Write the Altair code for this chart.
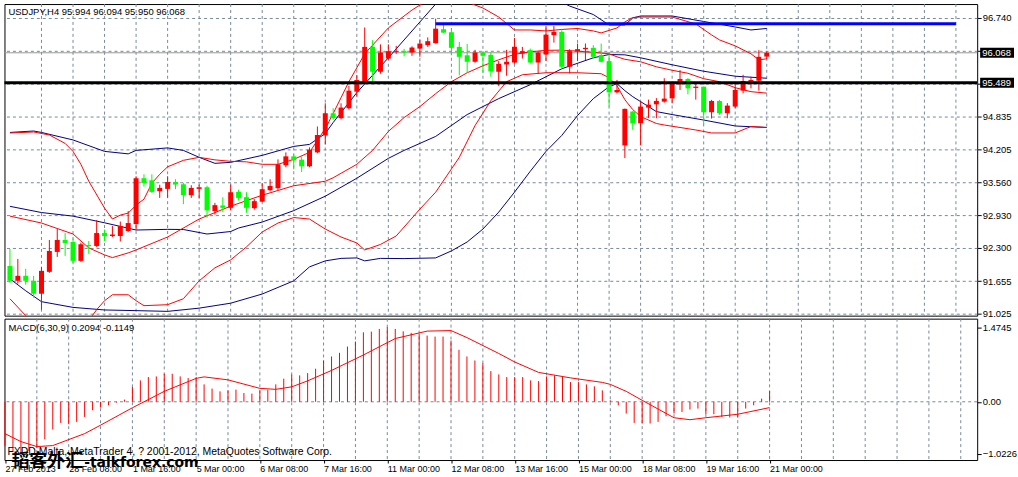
import altair as alt
import pandas as pd

# ---------------- data ----------------
opens = [91.949, 91.661, 91.757, 91.661, 91.411, 91.834, 92.219, 92.450, 92.411, 92.046,
         92.353, 92.334, 92.584, 92.527, 92.527, 92.623, 92.757, 93.643, 93.604, 93.392,
         93.437, 93.571, 93.527, 93.315, 93.437, 93.469, 93.008, 93.117, 93.071, 93.379,
         93.277, 93.065, 93.190, 93.412, 93.450, 93.893, 94.066, 94.002, 93.873, 94.143,
         94.470, 94.899, 94.803, 94.995, 95.316, 95.509, 96.182, 95.701, 95.957, 96.080,
         96.099, 96.073, 96.149, 96.215, 96.253, 96.523, 96.465, 96.182, 96.019, 95.894,
         96.073, 96.028, 95.701, 95.842, 95.880, 96.053, 96.119, 95.880, 96.034, 96.407,
         96.471, 95.797, 96.099, 96.138, 96.163, 96.023, 95.907, 95.303, 94.277, 94.932,
         94.706, 95.009, 95.072, 95.124, 95.187, 95.457, 95.561, 95.388, 95.413, 94.918,
         95.137, 94.899, 95.028, 95.336, 95.509, 95.528, 95.994]
highs = [92.277, 92.084, 91.892, 91.757, 91.930, 92.450, 92.661, 92.584, 92.478, 92.398,
         92.430, 92.834, 92.652, 92.719, 92.806, 93.008, 93.681, 93.719, 93.719, 93.517,
         93.681, 93.623, 93.552, 93.508, 93.521, 93.498, 93.167, 93.277, 93.521, 93.421,
         93.373, 93.238, 93.546, 93.623, 94.008, 94.143, 94.114, 94.066, 94.239, 94.643,
         95.091, 94.995, 95.091, 95.432, 95.638, 96.557, 96.311, 96.230, 96.230, 96.201,
         96.144, 96.192, 96.326, 96.365, 96.727, 96.611, 96.500, 96.278, 96.240, 96.124,
         96.099, 96.080, 95.907, 96.124, 96.355, 96.182, 96.149, 96.099, 96.586, 96.586,
         96.503, 96.138, 96.246, 96.246, 96.215, 96.246, 96.053, 95.542, 94.989, 94.941,
         95.124, 95.162, 95.191, 95.576, 95.509, 95.734, 95.580, 95.495, 95.413, 95.157,
         95.157, 95.095, 95.470, 95.643, 95.605, 96.119, 96.094]
lows = [91.622, 91.603, 91.584, 91.334, 91.103, 91.815, 92.123, 92.142, 92.007, 92.026,
        92.180, 92.315, 92.430, 92.507, 92.421, 92.604, 92.642, 93.479, 93.360, 93.263,
        93.267, 93.431, 93.142, 93.263, 93.252, 92.879, 92.940, 92.988, 93.021, 93.213,
        92.975, 93.036, 93.181, 93.392, 93.412, 93.854, 93.816, 93.764, 93.854, 94.124,
        94.297, 94.772, 94.778, 94.970, 95.220, 95.470, 95.476, 95.663, 95.932, 96.048,
        95.999, 96.009, 95.990, 96.182, 96.246, 96.452, 96.019, 95.630, 95.682, 95.874,
        95.682, 95.605, 95.422, 95.624, 95.855, 95.957, 95.861, 95.668, 95.907, 96.265,
        95.734, 95.668, 95.907, 95.926, 95.957, 95.884, 95.028, 95.284, 94.033, 94.579,
        94.277, 94.807, 94.803, 95.105, 95.091, 95.349, 95.264, 95.162, 94.681, 94.797,
        94.868, 94.803, 94.995, 95.284, 95.380, 95.336, 95.950]
closes = [91.661, 91.757, 91.661, 91.411, 91.853, 92.238, 92.450, 92.392, 92.046, 92.367,
          92.334, 92.584, 92.527, 92.555, 92.719, 92.777, 93.643, 93.552, 93.379, 93.456,
          93.571, 93.521, 93.315, 93.456, 93.469, 93.021, 93.123, 93.071, 93.373, 93.263,
          93.071, 93.200, 93.431, 93.494, 93.912, 94.066, 93.989, 93.873, 94.195, 94.479,
          94.899, 94.803, 95.009, 95.336, 95.542, 96.182, 95.701, 96.073, 96.099, 96.099,
          96.073, 96.169, 96.246, 96.292, 96.534, 96.457, 96.163, 95.990, 95.894, 96.073,
          96.009, 95.707, 95.855, 95.894, 96.182, 96.099, 95.880, 96.073, 96.419, 96.471,
          95.797, 96.099, 96.138, 96.163, 95.990, 95.894, 95.303, 95.349, 94.984, 94.706,
          95.028, 95.066, 95.137, 95.182, 95.476, 95.561, 95.380, 95.413, 94.918, 95.137,
          94.899, 95.047, 95.349, 95.522, 95.542, 95.990, 96.068]

# Bollinger lines (blue = slow band, red = fast band): bar index -> price
bu_bars = [0, 3, 4, 8, 12, 15, 16, 20, 22, 24, 26, 28, 32, 36, 38, 40, 41, 44, 48, 52, 54, 56, 60, 64,
           68, 70, 71, 74, 76, 78, 79, 80, 84, 88, 92, 94, 96]
bu_vals = [94.528, 94.556, 94.528, 94.383, 94.162, 94.114, 94.181, 94.229, 94.181, 94.047, 93.931,
           93.950, 94.085, 94.258, 94.297, 94.508, 94.720, 95.297, 95.971, 96.663, 97.010, 97.337,
           97.529, 97.433, 97.240, 97.048, 96.971, 96.807, 96.605, 96.605, 96.740, 96.779, 96.779,
           96.673, 96.567, 96.509, 96.538]
bm_bars = [0, 4, 8, 12, 16, 20, 22, 25, 28, 29, 32, 36, 40, 42, 44, 48, 50, 54, 58, 62, 66, 70, 74,
           76, 78, 80, 84, 88, 92, 96]
bm_vals = [93.100, 92.980, 92.911, 92.782, 92.642, 92.655, 92.652, 92.565, 92.613, 92.681, 92.796,
           93.017, 93.296, 93.469, 93.643, 94.027, 94.181, 94.451, 94.874, 95.182, 95.451, 95.759,
           95.971, 96.034, 96.028, 95.971, 95.836, 95.711, 95.615, 95.576]
bl_bars = [0, 2, 4, 8, 12, 16, 20, 24, 28, 32, 36, 38, 40, 42, 44, 45, 47, 50, 54, 56, 58, 60, 62, 64,
           66, 68, 70, 72, 74, 76, 77, 78, 79, 80, 82, 84, 88, 92, 96]
bl_vals = [91.699, 91.468, 91.257, 91.147, 91.097, 91.084, 91.070, 91.132, 91.228, 91.405, 91.660,
           91.930, 92.046, 92.094, 92.103, 92.046, 92.094, 92.090, 92.103, 92.238, 92.411, 92.661,
           92.988, 93.373, 93.777, 94.162, 94.470, 94.855, 95.182, 95.413, 95.470, 95.336, 95.220,
           95.124, 94.931, 94.874, 94.768, 94.653, 94.624]
ru_bars = [0, 3, 5, 7, 8, 9, 10, 12, 13, 14, 15, 16, 17, 18, 19, 20, 22, 24, 26, 28, 30, 32, 34, 36,
           38, 40, 41, 42, 43, 44, 45, 48, 51, 53, 55, 57, 58, 60, 62, 64, 66, 68, 70, 72, 74, 75,
           77, 78, 79, 80, 84, 87, 89, 90, 92, 94, 95, 96]
ru_vals = [94.518, 94.537, 94.479, 94.316, 94.162, 93.912, 93.585, 93.065, 92.854, 92.931, 92.969,
           93.123, 93.238, 93.546, 93.719, 93.864, 93.989, 94.047, 93.998, 93.970, 93.960, 93.912,
           93.912, 94.008, 94.143, 94.605, 94.893, 95.201, 95.509, 95.778, 96.048, 96.548, 96.894,
           97.086, 97.202, 97.125, 97.048, 96.933, 96.759, 96.509, 96.509, 96.490, 96.519, 96.538,
           96.490, 96.452, 96.548, 96.663, 96.750, 96.759, 96.759, 96.625, 96.413, 96.317, 96.201,
           96.048, 95.932, 95.951]
rm_bars = [0, 4, 8, 10, 12, 13, 15, 16, 20, 24, 28, 32, 36, 40, 41, 42, 44, 46, 48, 50, 52, 54, 56,
           58, 60, 62, 64, 66, 68, 70, 72, 74, 76, 77, 78, 80, 82, 84, 86, 88, 90, 92, 94, 96]
rm_vals = [92.911, 92.777, 92.565, 92.296, 92.161, 92.109, 92.200, 92.257, 92.507, 92.854, 93.104,
           93.315, 93.498, 93.585, 93.652, 93.739, 93.912, 94.181, 94.547, 94.816, 95.028, 95.278,
           95.509, 95.682, 95.817, 95.932, 96.038, 96.086, 96.115, 96.119, 96.099, 96.076, 96.048,
           95.990, 95.942, 95.894, 95.797, 95.730, 95.672, 95.567, 95.509, 95.393, 95.316, 95.288]
rl_bars = [0, 2, 5, 8, 10, 11, 12, 13, 15, 16, 17, 20, 22, 24, 26, 28, 30, 32, 34, 36, 38, 40, 42,
           44, 45, 47, 49, 52, 54, 57, 59, 61, 63, 65, 68, 72, 75, 76, 77, 78, 79, 80, 82, 83, 87,
           89, 92, 94, 96]
rl_vals = [91.314, 90.987, 90.603, 90.545, 90.891, 91.103, 91.276, 91.391, 91.391, 91.276, 91.180,
           91.199, 91.314, 91.660, 91.911, 92.065, 92.315, 92.604, 92.777, 92.883, 92.854, 92.661,
           92.507, 92.392, 92.257, 92.363, 92.527, 93.046, 93.373, 94.047, 94.662, 95.143, 95.509,
           95.643, 95.682, 95.682, 95.663, 95.586, 95.432, 95.162, 94.970, 94.835, 94.701, 94.672,
           94.576, 94.518, 94.518, 94.643, 94.624]

# drawn objects
trend_bars = [54, 120]
trend_vals = [96.630, 96.630]
hline_price = [95.489]
bid_price = [96.068]
marked_prices = [96.068, 95.489]

# MACD(6,30,9)
macd_hist = [-0.875, -0.973, -1.022, -0.973, -0.914, -0.743, -0.547, -0.417, -0.442, -0.397,
             -0.299, -0.167, -0.114, -0.069, -0.016, 0.043, 0.291, 0.423, 0.488, 0.501,
             0.554, 0.554, 0.501, 0.468, 0.488, 0.344, 0.260, 0.206, 0.226, 0.240,
             0.173, 0.161, 0.226, 0.240, 0.344, 0.456, 0.535, 0.521, 0.566, 0.653,
             0.816, 0.895, 0.967, 1.091, 1.190, 1.372, 1.386, 1.439, 1.4745, 1.439,
             1.392, 1.361, 1.341, 1.307, 1.288, 1.288, 1.209, 1.026, 0.895, 0.816,
             0.763, 0.606, 0.541, 0.488, 0.488, 0.488, 0.423, 0.409, 0.501, 0.521,
             0.488, 0.389, 0.389, 0.344, 0.305, 0.226, 0.029, -0.069, -0.232, -0.417,
             -0.429, -0.429, -0.397, -0.285, -0.232, -0.201, -0.153, -0.134, -0.246, -0.246,
             -0.299, -0.311, -0.311, -0.134, -0.069, 0.063, 0.2094]
sig_bars = [0, 2, 4, 6, 10, 12, 16, 20, 24, 25, 28, 32, 34, 36, 38, 41, 45, 49, 53, 56, 58, 62, 64,
            67, 71, 75, 76, 78, 80, 84, 86, 88, 92, 96]
sig_vals = [-0.629, -0.786, -0.885, -0.865, -0.629, -0.462, -0.118, 0.206, 0.462, 0.492, 0.433,
            0.265, 0.246, 0.295, 0.413, 0.619, 0.924, 1.249, 1.396, 1.406, 1.268, 0.954, 0.786,
            0.580, 0.472, 0.383, 0.344, 0.206, 0.029, -0.315, -0.354, -0.315, -0.246, -0.1149]

# axes
price_ticks = [96.740, 96.105, 95.470, 94.835, 94.205, 93.560, 92.930, 92.300, 91.655, 91.025]
hidden_price_ticks = [96.105, 95.470]
macd_ticks = [1.4745, 0.0, -1.0226]
time_labels = ["27 Feb 2013", "28 Feb 08:00", "1 Mar 16:00", "5 Mar 00:00", "6 Mar 08:00",
               "7 Mar 16:00", "11 Mar 00:00", "12 Mar 08:00", "13 Mar 16:00", "15 Mar 00:00",
               "18 Mar 08:00", "19 Mar 16:00", "21 Mar 00:00"]
label_bars = [8 * i for i in range(len(time_labels))]
grid_bars = [4 * i for i in range(1, 31)]

title_text = "USDJPY,H4  95.994 96.094 95.950 96.068"
macd_text = "MACD(6,30,9) 0.2094 -0.1149"
footer_text = "FXDD Malta, MetaTrader 4, ? 2001-2012, MetaQuotes Software Corp."
wm_cn = "韬客外汇"
wm_en = "-talkforex.com"

# ---------------- chart ----------------
W = 977
H_MAIN = 313
H_MACD = 142
FONT = "Liberation Sans"
GRID = "#778899"
RED = "#ff0000"
GREEN = "#00ff00"
NAVY = "#000080"

xs = alt.Scale(domain=[-0.0625, 122.0625], nice=False, zero=False)
ys = alt.Scale(domain=[90.987, 97.010], nice=False, zero=False)
ms = alt.Scale(domain=[-1.150, 1.642], nice=False, zero=False)

hidden_expr = " || ".join(f"abs(datum.value - {v}) < 0.0005" for v in hidden_price_ticks)
y_axis_main = alt.Axis(orient="right", values=price_ticks,
                       labelExpr=f"({hidden_expr}) ? '' : format(datum.value, '.3f')",
                       grid=True, gridColor=GRID, gridDash=[3, 3], gridWidth=1, gridOpacity=1,
                       ticks=True, tickSize=4, tickColor="black", domain=False,
                       labelPadding=1, labelFont=FONT, labelFontSize=9.5, labelColor="black",
                       labelBaseline="middle", labelOverlap=False, title=None)
y_axis_macd = alt.Axis(orient="right", values=macd_ticks,
                       labelExpr="datum.value == 0 ? '0.00' : format(datum.value, '.4f')",
                       grid=False, ticks=True, tickSize=4, tickColor="black", domain=False,
                       labelPadding=1, labelFont=FONT, labelFontSize=9.5, labelColor="black",
                       labelBaseline="middle", labelOverlap=False, title=None)
lab_arr = "[" + ",".join(f"'{s}'" for s in time_labels) + "]"
x_axis_macd = alt.Axis(orient="bottom", values=label_bars,
                       labelExpr=f"{lab_arr}[round(datum.value / 8)]",
                       grid=False, ticks=True, tickSize=3, tickColor="black", domain=False,
                       labelPadding=2, labelFont=FONT, labelFontSize=9, labelColor="black",
                       labelAlign="left", labelBaseline="top", labelFlush=False,
                       labelOverlap=False, title=None)

X_MAIN = alt.X("bar:Q", scale=xs, axis=None)
X_MACD = alt.X("bar:Q", scale=xs, axis=x_axis_macd)


def ymain(field):
    return alt.Y(f"{field}:Q", scale=ys, axis=y_axis_main)


def line_layer(bars, vals, color, width=1):
    df = pd.DataFrame({"bar": bars, "v": vals})
    return alt.Chart(df).mark_line(color=color, strokeWidth=width, clip=True).encode(
        x=X_MAIN, y=ymain("v"))


candles = pd.DataFrame({"bar": list(range(len(opens))), "open": opens, "high": highs,
                        "low": lows, "close": closes})
candles["dir"] = ["up" if c >= o else "down" for o, c in zip(opens, closes)]
cscale = alt.Scale(domain=["up", "down"], range=[RED, GREEN])

grid_df = pd.DataFrame({"bar": grid_bars})
vgrid_main = alt.Chart(grid_df).mark_rule(color=GRID, strokeDash=[3, 3], strokeWidth=1).encode(x=X_MAIN)

bid = alt.Chart(pd.DataFrame({"p": bid_price})).mark_rule(color="#999999", strokeWidth=1).encode(
    y=ymain("p"))

wicks = alt.Chart(candles).mark_rule(strokeWidth=1).encode(
    x=X_MAIN, y=ymain("low"), y2="high:Q",
    color=alt.Color("dir:N", scale=cscale, legend=None))
bodies = alt.Chart(candles).mark_bar(size=5).encode(
    x=X_MAIN, y=ymain("open"), y2="close:Q",
    color=alt.Color("dir:N", scale=cscale, legend=None))

hline = alt.Chart(pd.DataFrame({"p": hline_price})).mark_rule(color="black", strokeWidth=3).encode(
    y=ymain("p"))
trend = line_layer(trend_bars, trend_vals, "#0000ff", 3)

title = alt.Chart(pd.DataFrame({"t": [title_text]})).mark_text(
    align="left", baseline="middle", font=FONT, fontSize=9.5, color="black").encode(
    x=alt.value(4), y=alt.value(8), text="t:N")

hl_df = pd.DataFrame({"p": marked_prices, "label": [f"{v:.3f}" for v in marked_prices]})
hl_box = alt.Chart(hl_df).mark_rect(color="black", yOffset=-5, y2Offset=5).encode(
    x=alt.value(W + 3), x2=alt.value(W + 37), y=ymain("p"), y2="p:Q")
hl_txt = alt.Chart(hl_df).mark_text(align="left", baseline="middle", font=FONT, fontSize=9.5,
                                    color="white").encode(
    x=alt.value(W + 5), y=ymain("p"), text="label:N")

main = alt.layer(
    vgrid_main, bid,
    line_layer(bu_bars, bu_vals, NAVY), line_layer(bm_bars, bm_vals, NAVY),
    line_layer(bl_bars, bl_vals, NAVY),
    line_layer(ru_bars, ru_vals, RED), line_layer(rm_bars, rm_vals, RED),
    line_layer(rl_bars, rl_vals, RED),
    wicks, bodies, hline, trend, title, hl_box, hl_txt,
).properties(width=W, height=H_MAIN)

# MACD panel
macd_df = pd.DataFrame({"bar": list(range(len(macd_hist))), "m": macd_hist})
sig_df = pd.DataFrame({"bar": sig_bars, "s": sig_vals})


def ymacd(field):
    return alt.Y(f"{field}:Q", scale=ms, axis=y_axis_macd)


vgrid_macd = alt.Chart(grid_df).mark_rule(color=GRID, strokeDash=[3, 3], strokeWidth=1).encode(x=X_MACD)
zero = alt.Chart(pd.DataFrame({"z": [0.0]})).mark_rule(color=GRID, strokeDash=[3, 3], strokeWidth=1).encode(
    y=ymacd("z"))
hist = alt.Chart(macd_df).mark_rule(color=RED, strokeWidth=1).encode(
    x=X_MACD, y=ymacd("m"), y2=alt.datum(0))
sig = alt.Chart(sig_df).mark_line(color=RED, strokeWidth=1, clip=True).encode(x=X_MACD, y=ymacd("s"))
macd_lbl = alt.Chart(pd.DataFrame({"t": [macd_text]})).mark_text(
    align="left", baseline="middle", font=FONT, fontSize=9.5, color="black").encode(
    x=alt.value(4), y=alt.value(9), text="t:N")
footer = alt.Chart(pd.DataFrame({"t": [footer_text]})).mark_text(
    align="left", baseline="middle", font=FONT, fontSize=10.5, color="black").encode(
    x=alt.value(3), y=alt.value(134), text="t:N")
wm1 = alt.Chart(pd.DataFrame({"t": [wm_cn]})).mark_text(
    align="left", baseline="middle", font="Noto Sans CJK SC", fontSize=18, fontWeight="bold",
    color="black").encode(x=alt.value(7), y=alt.value(144), text="t:N")
wm2 = alt.Chart(pd.DataFrame({"t": [wm_en]})).mark_text(
    align="left", baseline="middle", font="DejaVu Sans", fontSize=14, fontWeight="bold",
    color="black").encode(x=alt.value(80), y=alt.value(145), text="t:N")

macd = alt.layer(vgrid_macd, zero, hist, sig, macd_lbl, footer, wm1, wm2).properties(
    width=W, height=H_MACD)

chart = alt.vconcat(main, macd, spacing=3, bounds="flush").properties(
    padding={"left": 2.5, "top": 2, "right": 0, "bottom": 0},
    background="white",
).configure_view(stroke="black", strokeWidth=1, fill="white")

chart.save("out.html", embed_options={"renderer": "svg", "actions": False})
